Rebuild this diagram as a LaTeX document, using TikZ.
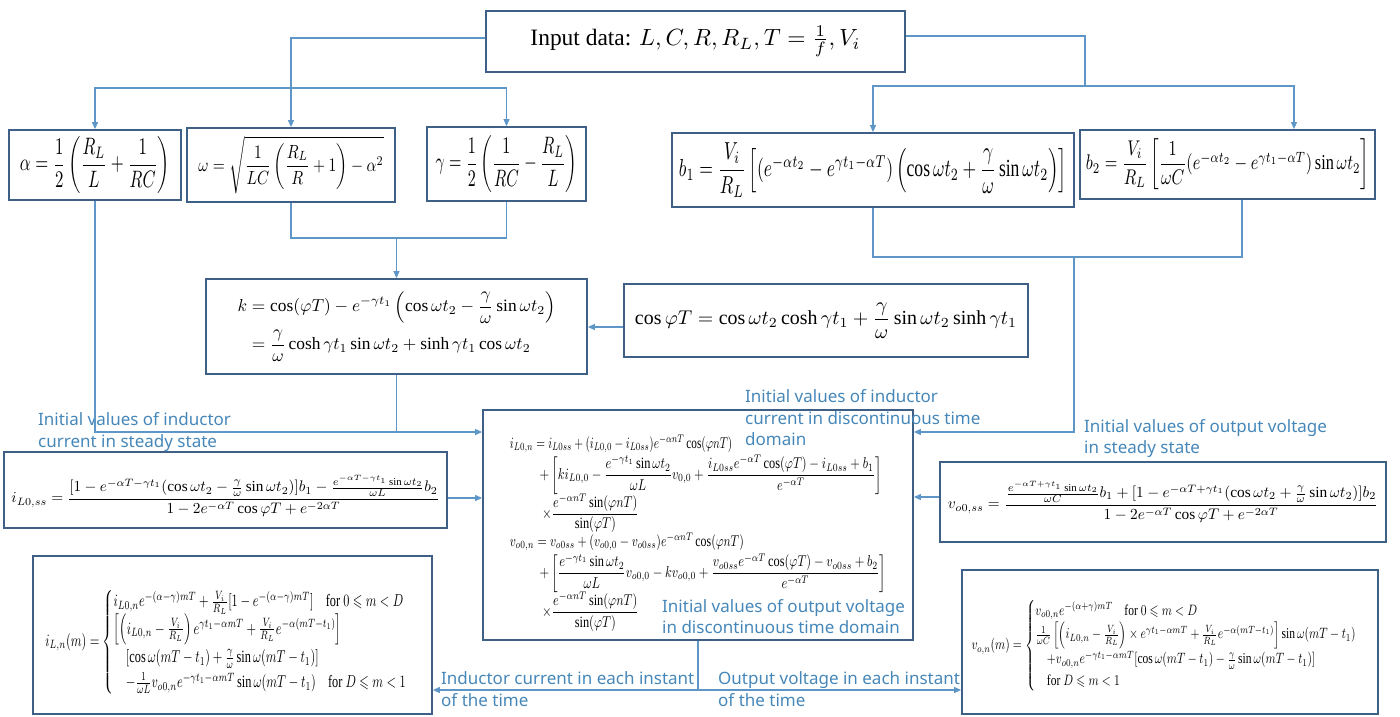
\documentclass[tikz,border=0pt]{standalone}
\usepackage{amsmath}
\usepackage{amssymb}
\usepackage{graphicx}
\usepackage{fontspec}
\setmainfont{Liberation Serif}
\newfontfamily\lblfont{Noto Sans}
\usetikzlibrary{arrows.meta,calc}

\definecolor{boxline}{RGB}{62,96,135}
\definecolor{wirecol}{RGB}{95,150,200}
\definecolor{lblcol}{RGB}{70,135,185}

% shift a formula down inside its frame without changing the frame
\newcommand\lowered[2]{\raisebox{-#1}[\height][\depth]{#2}}
% horizontally condensed math line
\newcommand\narrowed[2]{\scalebox{#1}[1]{$#2$}}

\tikzset{
  eqbox/.style={draw=boxline, line width=1.8pt, inner sep=0pt, align=center},
  link/.style={draw=wirecol, line width=1.1pt},
  arr/.style={link, -{Triangle[length=7pt,width=6pt]}},
  note/.style={text=lblcol, font=\lblfont\fontsize{17}{21.5}\selectfont,
    align=left, inner sep=0pt, anchor=west},
}

\begin{document}
\begin{tikzpicture}[x=1pt,y=-1pt]
\useasboundingbox (0,0) rectangle (1400,716);

% ---------- input data ----------
\node[eqbox, minimum width=419pt, minimum height=61pt] (top) at (695.5,41.5)
  {\resizebox{330pt}{!}{Input data: $L, C, R, R_L, T=\frac{1}{f}, V_i$}};

% ---------- circuit constants ----------
\node[eqbox, minimum width=172pt, minimum height=70pt] (alpha) at (95,165)
  {\resizebox*{150pt}{57pt}{$\alpha=\dfrac{1}{2}\left(\dfrac{R_L}{L}+\dfrac{1}{RC}\right)$}};
\node[eqbox, minimum width=208pt, minimum height=74pt] (omega) at (291,165)
  {\resizebox*{185pt}{58pt}{$\omega=\sqrt{\dfrac{1}{LC}\left(\dfrac{R_L}{R}+1\right)-\alpha^2}$}};
\node[eqbox, minimum width=159pt, minimum height=74pt] (gamma) at (506.5,164)
  {\resizebox*{142pt}{57pt}{$\gamma=\dfrac{1}{2}\left(\dfrac{1}{RC}-\dfrac{R_L}{L}\right)$}};
\node[eqbox, minimum width=402pt, minimum height=74pt] (b1) at (873,170)
  {\resizebox*{388pt}{54pt}{$b_1=\dfrac{V_i}{R_L}\left[(e^{-\alpha t_2}-e^{\gamma t_1-\alpha T})\left(\cos\omega t_2+\dfrac{\gamma}{\omega}\sin\omega t_2\right)\right]$}};
\node[eqbox, minimum width=295pt, minimum height=69pt] (b2) at (1227.5,164.5)
  {\resizebox*{283pt}{51pt}{$b_2=\dfrac{V_i}{R_L}\left[\dfrac{1}{\omega C}(e^{-\alpha t_2}-e^{\gamma t_1-\alpha T})\sin\omega t_2\right]$}};

% ---------- k and cos(phi T) ----------
\node[eqbox, minimum width=381pt, minimum height=95pt] (k) at (396.5,326.5)
  {\resizebox*{318pt}{70pt}{$\begin{aligned}
    k&=\cos(\varphi T)-e^{-\gamma t_1}\left(\cos\omega t_2-\dfrac{\gamma}{\omega}\sin\omega t_2\right)\\
     &=\dfrac{\gamma}{\omega}\cosh\gamma t_1\sin\omega t_2+\sinh\gamma t_1\cos\omega t_2
   \end{aligned}$}};
\node[eqbox, minimum width=404pt, minimum height=73pt] (cosphi) at (826,320.5)
  {\resizebox{382pt}{!}{$\cos\varphi T=\cos\omega t_2\cosh\gamma t_1+\dfrac{\gamma}{\omega}\sin\omega t_2\sinh\gamma t_1$}};

% ---------- discontinuous-time initial values ----------
\node[eqbox, minimum width=430pt, minimum height=230pt] (center) at (698,525)
  {\lowered{8pt}{\resizebox*{376pt}{196pt}{$\begin{array}{@{}l@{}}
    \narrowed{0.91}{i_{L0,n}=i_{L0ss}+(i_{L0,0}-i_{L0ss})e^{-\alpha nT}\cos(\varphi nT)}\\[1pt]
    \hspace{2.4em}+\left[ki_{L0,0}-\dfrac{e^{-\gamma t_1}\sin\omega t_2}{\omega L}v_{0,0}
      +\dfrac{i_{L0ss}e^{-\alpha T}\cos(\varphi T)-i_{L0ss}+b_1}{e^{-\alpha T}}\right]\\[1pt]
    \hspace{2.6em}\times\dfrac{e^{-\alpha nT}\sin(\varphi nT)}{\sin(\varphi T)}\\[6pt]
    \narrowed{0.96}{v_{o0,n}=v_{o0ss}+(v_{o0,0}-v_{o0ss})e^{-\alpha nT}\cos(\varphi nT)}\\[1pt]
    \hspace{2.4em}+\left[\dfrac{e^{-\gamma t_1}\sin\omega t_2}{\omega L}v_{o0,0}-kv_{o0,0}
      +\dfrac{v_{o0ss}e^{-\alpha T}\cos(\varphi T)-v_{o0ss}+b_2}{e^{-\alpha T}}\right]\\[1pt]
    \hspace{2.6em}\times\dfrac{e^{-\alpha nT}\sin(\varphi nT)}{\sin(\varphi T)}
  \end{array}$}}};

% ---------- steady-state initial values ----------
\node[eqbox, minimum width=443pt, minimum height=76pt] (iss) at (225.5,490)
  {\lowered{6pt}{\resizebox{428pt}{!}{$i_{L0,ss}=\dfrac{[1-e^{-\alpha T-\gamma t_1}(\cos\omega t_2-\frac{\gamma}{\omega}\sin\omega t_2)]b_1-\frac{e^{-\alpha T-\gamma t_1}\sin\omega t_2}{\omega L}b_2}{1-2e^{-\alpha T}\cos\varphi T+e^{-2\alpha T}}$}}};
\node[eqbox, minimum width=446pt, minimum height=80pt] (vss) at (1163,502)
  {\resizebox{430pt}{!}{$v_{o0,ss}=\dfrac{\frac{e^{-\alpha T+\gamma t_1}\sin\omega t_2}{\omega C}b_1+[1-e^{-\alpha T+\gamma t_1}(\cos\omega t_2+\frac{\gamma}{\omega}\sin\omega t_2)]b_2}{1-2e^{-\alpha T}\cos\varphi T+e^{-2\alpha T}}$}};

% ---------- waveforms within a period ----------
\node[eqbox, minimum width=399pt, minimum height=158pt] (iLn) at (232.5,635)
  {\lowered{7pt}{\resizebox*{374pt}{106pt}{$i_{L,n}(m)=\begin{cases}
    i_{L0,n}e^{-(\alpha-\gamma)mT}+\frac{V_i}{R_L}[1-e^{-(\alpha-\gamma)mT}]\quad\text{for }0\leqslant m<D\\
    \left[\left(i_{L0,n}-\frac{V_i}{R_L}\right)e^{\gamma t_1-\alpha mT}+\frac{V_i}{R_L}e^{-\alpha(mT-t_1)}\right]\\
    \quad[\cos\omega(mT-t_1)+\frac{\gamma}{\omega}\sin\omega(mT-t_1)]\\
    \quad-\frac{1}{\omega L}v_{o0,n}e^{-\gamma t_1-\alpha mT}\sin\omega(mT-t_1)\quad\text{for }D\leqslant m<1
  \end{cases}$}}};
\node[eqbox, minimum width=416pt, minimum height=144pt] (von) at (1170,642)
  {\lowered{4pt}{\resizebox*{397pt}{92pt}{$v_{o,n}(m)=\begin{cases}
    v_{o0,n}e^{-(\alpha+\gamma)mT}\quad\text{for }0\leqslant m<D\\
    \frac{1}{\omega C}\left[\left(i_{L0,n}-\frac{V_i}{R_L}\right)\times e^{\gamma t_1-\alpha mT}+\frac{V_i}{R_L}e^{-\alpha(mT-t_1)}\right]\sin\omega(mT-t_1)\\
    \quad+v_{o0,n}e^{-\gamma t_1-\alpha mT}[\cos\omega(mT-t_1)-\frac{\gamma}{\omega}\sin\omega(mT-t_1)]\\
    \quad\text{for }D\leqslant m<1
  \end{cases}$}}};

% ---------- captions ----------
\node[note] (capA) at (38,432) {Initial values of inductor\\current in steady state};
\node[note] (capB) at (745,418) {Initial values of inductor\\current in discontinuous time\\domain};
\node[note] (capC) at (1084,438.5) {Initial values of output voltage\\in steady state};
\node[note] (capD) at (662,616.5) {Initial values of output voltage\\in discontinuous time domain};
\node[note] (capE) at (441,689) {Inductor current in each instant\\of the time};
\node[note] (capF) at (718,689) {Output voltage in each instant\\of the time};

% ---------- connectors ----------
% input data -> alpha, omega, gamma
\draw[arr] (top.west |- 0,38) -| (omega.north);
\coordinate (lsplit) at (omega.north |- 0,88);
\draw[arr] (lsplit) -| (alpha.north);
\draw[arr] (lsplit) -| (gamma.north);
% input data -> b1, b2
\coordinate (rsplit) at (1085,86);
\draw[link] (top.east |- 0,36) -| (rsplit);
\draw[arr] (rsplit) -| (b1.north);
\draw[arr] (rsplit) -| (1294,0 |- b2.north);
% omega, gamma -> k
\coordinate (kjoin) at (k.north |- 0,238);
\draw[link] (omega.south) |- (gamma.south |- kjoin) -- (gamma.south);
\draw[arr] (kjoin) -- (k.north);
% cos(phi T) -> k
\draw[arr] (cosphi.west |- 0,327) -- (k.east |- 0,327);
% alpha, k -> discontinuous-time block
\draw[arr] (alpha.south) |- (center.west |- 0,432);
\draw[link] (k.south) -- (k.south |- 0,432);
% b1, b2 -> discontinuous-time block
\coordinate (bjoin) at (1074,257);
\draw[link] (b1.south) |- (1242,0 |- bjoin) -- (1242,0 |- b2.south);
\draw[arr] (bjoin) |- (center.east |- 0,432);
% steady-state values -> discontinuous-time block
\draw[arr] (iss.east |- 0,498) -- (center.west |- 0,498);
\draw[arr] (vss.west |- 0,497) -- (center.east |- 0,497);
% discontinuous-time block -> waveforms
\coordinate (wsplit) at (center.south |- 0,690);
\draw[link] (center.south) -- (wsplit);
\draw[arr] (wsplit) -- (iLn.east |- wsplit);
\draw[arr] (wsplit) -- (von.west |- wsplit);
\end{tikzpicture}
\end{document}
